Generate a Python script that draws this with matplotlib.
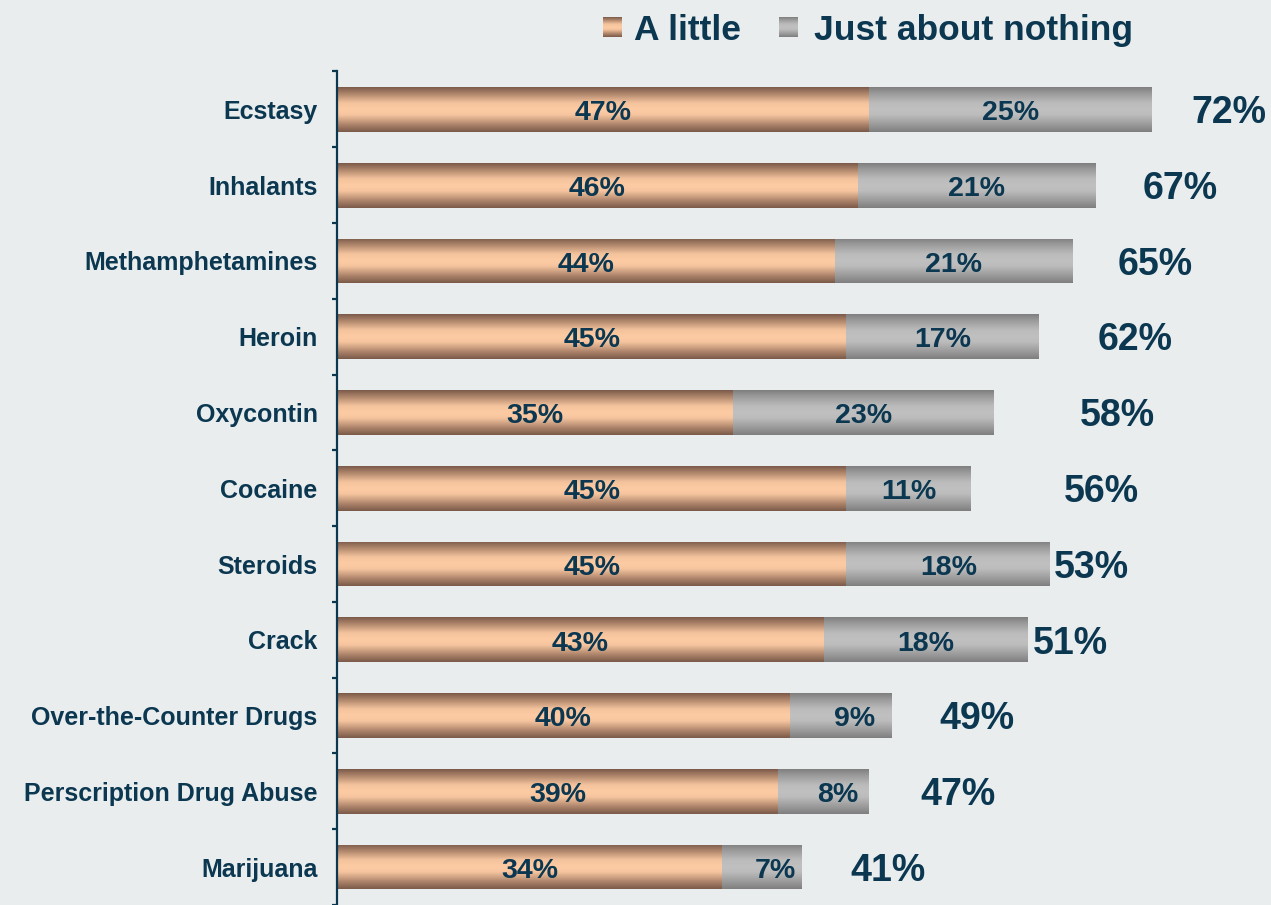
import numpy as np
import matplotlib
matplotlib.use("Agg")
import matplotlib.pyplot as plt
from matplotlib.colors import LinearSegmentedColormap

# ---- data -------------------------------------------------------------
drugs = ["Ecstasy", "Inhalants", "Methamphetamines", "Heroin", "Oxycontin",
         "Cocaine", "Steroids", "Crack", "Over-the-Counter Drugs",
         "Perscription Drug Abuse", "Marijuana"]
a_little = [47, 46, 44, 45, 35, 45, 45, 43, 40, 39, 34]
nothing = [25, 21, 21, 17, 23, 11, 18, 18, 9, 8, 7]
total_labels = ["72%", "67%", "65%", "62%", "58%", "56%", "53%", "51%",
                "49%", "47%", "41%"]
# horizontal position (in % units) of each total label
total_label_pos = [78.8, 74.5, 72.3, 70.5, 68.9, 67.5, 66.6, 64.8, 56.5, 54.9, 48.7]
series_names = ["A little", "Just about nothing"]

# ---- style ------------------------------------------------------------
BG = "#E9EDEE"
NAVY = "#0B3750"
FONT = "Liberation Sans"

orange_cmap = LinearSegmentedColormap.from_list(
    "copper_bar",
    [(0.0, "#7A5A49"), (0.12, "#A57D64"), (0.35, "#F3C39D"), (0.5, "#FDCBA3"),
     (0.62, "#F6C59F"), (0.85, "#A88067"), (1.0, "#7A5A49")])
gray_cmap = LinearSegmentedColormap.from_list(
    "steel_bar",
    [(0.0, "#7E7E7E"), (0.12, "#979797"), (0.35, "#BBBBBB"), (0.5, "#C0C0C0"),
     (0.62, "#BCBCBC"), (0.85, "#989898"), (1.0, "#7E7E7E")])

W, H = 1271, 905
ROW_PX = 76.1
fig = plt.figure(figsize=(W / 100, H / 100), dpi=100, facecolor=BG)

ax_left = 337 / W
ax_top = 71.5 / H
ax = fig.add_axes([ax_left, 0, 1 - ax_left, 1 - ax_top], facecolor=BG)

y = np.arange(len(drugs))
bar_h = 0.59
grad = np.linspace(0, 1, 256).reshape(-1, 1)


def shade(bars, cmap):
    for b in bars:
        x0, y0 = b.get_x(), b.get_y()
        w, h = b.get_width(), b.get_height()
        im = ax.imshow(grad, extent=[x0, x0 + w, y0 + h, y0], aspect="auto",
                       cmap=cmap, origin="upper", zorder=2, interpolation="bilinear")
        im.set_clip_path(b)


bars1 = ax.barh(y, a_little, height=bar_h, color="#FDCBA3", edgecolor="none", zorder=1)
bars2 = ax.barh(y, nothing, left=a_little, height=bar_h, color="#C0C0C0",
                edgecolor="none", zorder=1)
shade(bars1, orange_cmap)
shade(bars2, gray_cmap)

# baseline offsets so digits sit visually centred on each row
seg_base = 10.8 / ROW_PX
tot_base = 13.8 / ROW_PX

for i in range(len(drugs)):
    ax.text(a_little[i] / 2, y[i] + seg_base, f"{a_little[i]}%", ha="center",
            va="baseline", fontsize=20.5, fontweight="bold", color=NAVY,
            family=FONT, zorder=3)
    gx = a_little[i] + nothing[i] / 2
    if nothing[i] < 10:
        gx += 1.2
    ax.text(gx, y[i] + seg_base, f"{nothing[i]}%", ha="center",
            va="baseline", fontsize=20.5, fontweight="bold", color=NAVY,
            family=FONT, zorder=3)
    ax.text(total_label_pos[i], y[i] + tot_base, total_labels[i], ha="center",
            va="baseline", fontsize=27, fontweight="bold", color=NAVY,
            family=FONT, zorder=3)

ax.set_xlim(0, (W - 337) / 11.32)
ax.set_ylim(10.45, -0.5)

# axis styling
for s in ["top", "right", "bottom"]:
    ax.spines[s].set_visible(False)
ax.spines["left"].set_color(NAVY)
ax.spines["left"].set_linewidth(1.6)
ax.set_xticks([])
ax.set_yticks(y)
ax.set_yticklabels(drugs, fontsize=18, fontweight="bold", color=NAVY, family=FONT)
ax.tick_params(axis="y", which="major", length=0, pad=14)
ax.set_yticks(np.arange(-0.5, len(drugs), 1), minor=True)
ax.tick_params(axis="y", which="minor", length=3.5, width=1.6, color=NAVY)

# legend
legend_items = [(series_names[0], orange_cmap, 603, 634),
                (series_names[1], gray_cmap, 779, 814)]
for name, cmap, sx, tx in legend_items:
    sq = fig.add_axes([sx / W, 1 - 37 / H, 19 / W, 20 / H])
    sq.imshow(grad, aspect="auto", cmap=cmap, interpolation="bilinear")
    sq.set_axis_off()
    fig.text(tx / W, 1 - 27 / H, name, ha="left", va="center_baseline",
             fontsize=25.5, fontweight="bold", color=NAVY, family=FONT)

fig.savefig("out.png", dpi=100, facecolor=BG)
